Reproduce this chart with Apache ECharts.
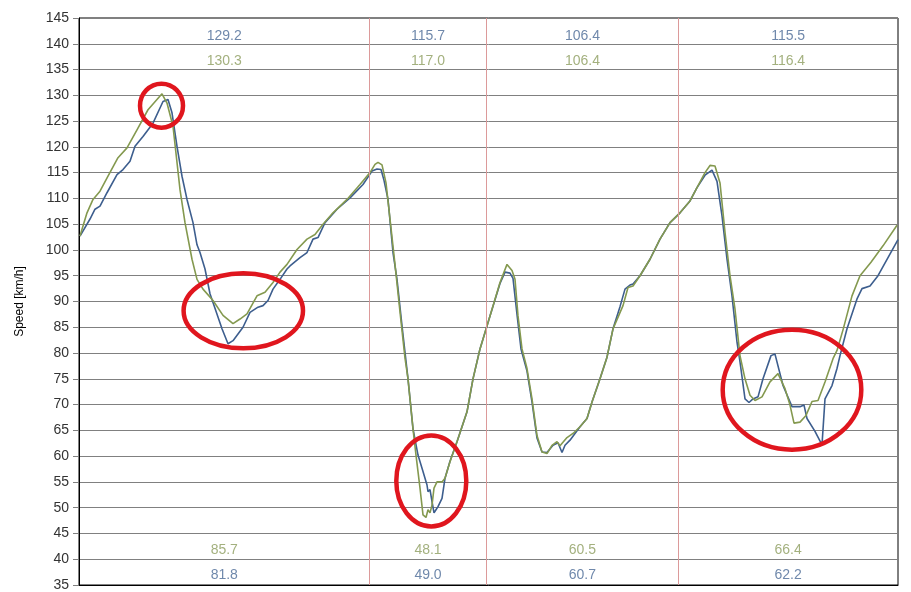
<!DOCTYPE html>
<html>
<head>
<meta charset="utf-8">
<script src="https://cdn.jsdelivr.net/npm/echarts@6/dist/echarts.min.js"></script>
<style>
html,body{margin:0;padding:0;background:#fff;}
#c{width:911px;height:592px;}
</style>
</head>
<body>
<div id="c"></div>
<script>
// distance along lap (arbitrary units), speed in km/h
const blueDist = [1,11,16,21,28,38,44,51,56,64,74,84,89,93,98,103,108,114,118,121,126,131,134,143,149,154,164,171,179,184,189,194,201,208,211,221,228,234,239,246,258,271,284,293,298,302,305,309,314,318,323,329,334,339,344,348,349,351,353,355,357,359,363,366,371,378,388,394,401,411,421,426,431,434,438,442,448,453,458,463,468,474,479,483,486,491,501,508,513,521,528,534,541,546,551,554,561,571,581,591,601,611,618,626,633,638,643,648,653,658,661,666,670,674,679,684,692,696,704,713,721,725,728,736,743,746,753,758,761,768,778,783,791,799,809,819];
const blueSpeed = [102.7,106.0,107.9,108.5,111.1,114.6,115.6,117.2,120.1,122.0,124.6,128.8,129.2,126.6,120.1,114.3,109.8,105.3,101.0,99.5,96.3,91.5,89.8,84.7,81.8,82.4,85.0,87.9,88.9,89.2,90.2,92.4,94.3,96.3,96.9,98.5,99.5,102.1,102.4,105.3,107.9,110.1,112.7,115.3,115.7,115.6,113.5,109.8,99.5,94.3,85.3,75.0,65.3,60.2,57.0,54.4,53.1,53.5,51.2,49.0,49.6,50.2,51.8,55.7,59.0,62.8,68.6,75.0,80.8,87.2,93.5,95.7,95.5,94.5,87.5,80.8,76.5,70.5,63.5,60.8,60.7,62.1,62.6,60.7,62.1,63.1,65.7,67.3,70.5,75.0,79.2,84.7,89.0,92.4,93.2,93.4,95.0,98.2,102.1,105.3,107.2,109.5,112.1,114.5,115.5,113.3,106.6,98.2,91.1,82.1,78.3,71.1,70.4,71.1,71.5,75.0,79.5,79.8,73.7,69.6,69.6,69.9,67.3,64.8,62.2,71.1,73.7,77.0,79.5,84.7,90.5,92.5,93.0,95.0,98.5,102.0];
const greenDist = [1,8,14,21,29,39,48,58,69,83,88,94,101,106,113,118,124,134,144,154,161,168,178,186,194,201,208,218,228,236,244,254,268,281,291,296,299,303,307,311,316,321,326,329,334,337,341,344,347,349,351,353,355,358,363,366,371,378,388,394,401,411,421,428,433,436,439,443,448,453,458,463,468,473,478,481,488,494,501,508,513,521,528,534,544,549,554,561,571,581,591,601,611,618,626,631,636,641,646,651,656,661,666,671,676,683,691,699,706,711,715,721,727,733,739,746,754,758,764,773,781,792,804,818];
const greenSpeed = [102.7,107.2,109.8,111.4,114.3,117.9,119.8,123.3,127.2,130.3,128.5,124.0,111.7,105.3,98.2,94.3,92.4,90.2,87.3,85.7,86.6,87.6,91.1,91.8,93.7,95.7,97.2,100.1,102.1,103.0,105.0,107.2,109.8,112.7,115.0,116.6,117.0,116.5,113.0,106.0,97.2,88.0,79.0,75.0,65.3,60.2,53.8,48.6,48.1,49.6,49.0,50.5,53.8,55.0,55.0,55.7,58.9,62.8,68.6,75.0,80.8,87.2,93.7,97.2,96.0,94.3,87.2,80.8,77.0,71.1,64.0,60.8,60.5,62.1,62.8,62.0,63.6,64.4,65.7,67.3,70.5,75.0,79.2,84.7,89.2,92.7,93.0,95.0,98.2,102.1,105.3,107.2,109.5,112.1,115.0,116.4,116.3,113.0,103.4,95.0,88.5,79.5,75.0,71.8,70.8,71.5,74.4,76.0,73.1,69.9,66.4,66.6,67.9,70.6,70.8,74.4,78.9,80.5,84.5,91.1,95.0,97.6,100.8,104.8];

// sector boundaries and per-sector max/min
const sectorEdges = [0, 290.5, 407.5, 599.3, 819];
const blueMax = ['129.2','115.7','106.4','115.5'];
const greenMax = ['130.3','117.0','106.4','116.4'];
const greenMin = ['85.7','48.1','60.5','66.4'];
const blueMin = ['81.8','49.0','60.7','62.2'];
const yTicks = {min:35, max:145, step:5};
const yName = 'Speed [km/h]';

// annotation ellipses in data coords: [dist, speed]; radii in px
const marks = [
  {c:[82.5, 128.0], rx:21.5, ry:22},
  {c:[164.3, 88.2], rx:59.7, ry:37.5},
  {c:[352.3, 55.2], rx:35, ry:45.5},
  {c:[713, 72.9], rx:69.3, ry:60}
];

const BLUE = '#3d5e8e';
const GREEN = '#84994f';
const BLUE_T = '#4b6a96';
const GREEN_T = '#8c9c5e';

function zip(a,b){ return a.map((x,i)=>[x,b[i]]); }
function centers(){ const r=[]; for(let i=0;i<sectorEdges.length-1;i++) r.push((sectorEdges[i]+sectorEdges[i+1])/2); return r; }
const cs = centers();
function labelSeries(vals, y, color){
  return {
    type:'scatter', symbolSize:0, silent:true, z:5,
    data: cs.map((x,i)=>({value:[x,y], label:{formatter: vals[i]}})),
    label:{show:true, position:'inside', color:color, fontSize:14, fontFamily:'Liberation Sans, Arial, sans-serif'}
  };
}

const chart = echarts.init(document.getElementById('c'), null, {renderer:'canvas'});
chart.setOption({
  animation:false,
  backgroundColor:'#fff',
  grid:{left:79, right:13, top:18, bottom:5, show:true, borderColor:'#000', borderWidth:1, backgroundColor:'transparent'},
  xAxis:{type:'value', min:0, max:819, show:true,
    axisLine:{show:true, lineStyle:{color:'#000', width:1}}, axisTick:{show:false}, axisLabel:{show:false}, splitLine:{show:false}},
  yAxis:{type:'value', min:yTicks.min, max:yTicks.max, interval:yTicks.step,
    name:yName, nameLocation:'middle', nameGap:53, nameRotate:90,
    nameTextStyle:{color:'#000', fontSize:12, fontFamily:'Liberation Sans, Arial, sans-serif'},
    axisLine:{show:true, lineStyle:{color:'#000', width:1}},
    axisTick:{show:true, length:6, lineStyle:{color:'#808080'}},
    axisLabel:{color:'#333', fontSize:14, margin:10, fontFamily:'Liberation Sans, Arial, sans-serif'},
    splitLine:{show:true, lineStyle:{color:'#808080', width:1}}},
  series:[
    {type:'line', data:zip(blueDist, blueSpeed), showSymbol:false, symbol:'none', lineStyle:{color:BLUE, width:1.6}, z:3,
     markLine:{silent:true, symbol:'none', label:{show:false}, lineStyle:{color:'#dc9a9a', width:1, type:'solid'},
       data: sectorEdges.slice(1,-1).map(x=>({xAxis:x}))}},
    {type:'line', data:zip(greenDist, greenSpeed), showSymbol:false, symbol:'none', lineStyle:{color:GREEN, width:1.6}, z:4},
    labelSeries(blueMax, 141.5, BLUE_T),
    labelSeries(greenMax, 136.6, GREEN_T),
    labelSeries(greenMin, 41.8, GREEN_T),
    labelSeries(blueMin, 36.9, BLUE_T)
  ]
});
const g = marks.map(m=>{
  const p = chart.convertToPixel({gridIndex:0}, m.c);
  return {type:'ellipse', shape:{cx:p[0], cy:p[1], rx:m.rx, ry:m.ry}, style:{fill:'none', stroke:'#e0161e', lineWidth:4.5}, z:100, silent:true};
});
chart.setOption({graphic:g});
</script>
</body>
</html>
